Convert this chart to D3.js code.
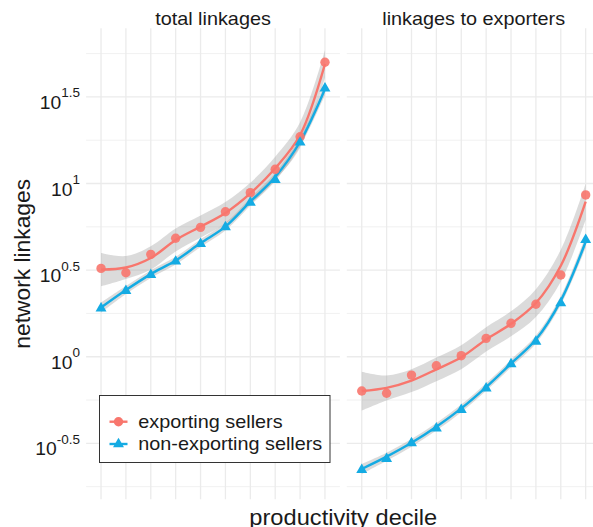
<!DOCTYPE html>
<html lang="en">
<head>
<meta charset="UTF-8">
<title>network linkages by productivity decile</title>
<style>
  body { margin: 0; background: #fff; }
  svg text { font-family: "Liberation Sans", Arial, sans-serif; fill: #1a1a1a; }
</style>
</head>
<body>
<svg id="chart" width="593" height="527"></svg>
<script src="https://d3js.org/d3.v7.min.js"></script>
<script>
// categories
const deciles = [1, 2, 3, 4, 5, 6, 7, 8, 9, 10];
const panelTitles = ["total linkages", "linkages to exporters"];
const seriesNames = ["exporting sellers", "non-exporting sellers"];

// log10 of network linkages per decile (points)
const totalExp = [0.510, 0.485, 0.591, 0.684, 0.747, 0.837, 0.947, 1.082, 1.270, 1.700];
const totalNon = [0.280, 0.380, 0.473, 0.550, 0.652, 0.748, 0.890, 1.021, 1.237, 1.550];
const toExpExp = [-0.198, -0.211, -0.106, -0.052, 0.006, 0.106, 0.193, 0.303, 0.472, 0.934];
const toExpNon = [-0.653, -0.590, -0.499, -0.413, -0.307, -0.182, -0.043, 0.088, 0.309, 0.675];

// smoothed fit (log10) and half width of its grey band
const totalExpFit = [0.503, 0.515, 0.570, 0.674, 0.751, 0.830, 0.943, 1.088, 1.280, 1.690];
const totalExpBand = [0.096, 0.066, 0.068, 0.066, 0.064, 0.063, 0.062, 0.066, 0.073, 0.080];
const totalNonFit = [0.284, 0.385, 0.477, 0.555, 0.656, 0.751, 0.895, 1.038, 1.241, 1.546];
const totalNonBand = [0.029, 0.023, 0.022, 0.022, 0.022, 0.022, 0.022, 0.023, 0.026, 0.035];
const toExpExpFit = [-0.198, -0.180, -0.138, -0.073, -0.003, 0.100, 0.190, 0.310, 0.525, 0.895];
const toExpExpBand = [0.112, 0.072, 0.066, 0.068, 0.069, 0.070, 0.072, 0.080, 0.092, 0.104];
const toExpNonFit = [-0.648, -0.577, -0.497, -0.404, -0.298, -0.175, -0.039, 0.099, 0.324, 0.664];
const toExpNonBand = [0.029, 0.023, 0.022, 0.022, 0.022, 0.022, 0.022, 0.023, 0.026, 0.035];

// y axis (exponents of 10)
const yTicks = [-0.5, 0, 0.5, 1, 1.5];
const yMinor = [-0.75, -0.25, 0.25, 0.75, 1.25, 1.75];
const yLimits = [-0.823, 1.896];

const colors = ["#F8766D", "#14ABE3"];
const SX = 1.09; // horizontal text stretch of the original

const svg = d3.select("#chart");

const y = d3.scaleLog()
    .domain([Math.pow(10, yLimits[0]), Math.pow(10, yLimits[1])])
    .range([499.3, 28.3]);
const yv = e => y(Math.pow(10, e));

const panels = [
    { title: panelTitles[0], range: [86.1, 339.9],
      series: [{ pts: totalExp, fit: totalExpFit, band: totalExpBand },
               { pts: totalNon, fit: totalNonFit, band: totalNonBand }] },
    { title: panelTitles[1], range: [346.8, 600.6],
      series: [{ pts: toExpExp, fit: toExpExpFit, band: toExpExpBand },
               { pts: toExpNon, fit: toExpNonFit, band: toExpNonBand }] }
];

function stretched(sel, x, yy) {
    return sel.attr("transform", `translate(${x},${yy}) scale(${SX},1)`);
}

const tri = d3.symbol().type(d3.symbolTriangle).size(52);

panels.forEach(p => {
    const x = d3.scalePoint().domain(deciles).range(p.range).padding(0.6);
    const g = svg.append("g");

    // grid
    g.selectAll(".minor").data(yMinor).enter().append("line")
        .attr("x1", p.range[0]).attr("x2", p.range[1])
        .attr("y1", d => yv(d)).attr("y2", d => yv(d))
        .attr("stroke", "#EBEBEB").attr("stroke-width", 0.7);
    g.selectAll(".major").data(yTicks).enter().append("line")
        .attr("x1", p.range[0]).attr("x2", p.range[1])
        .attr("y1", d => yv(d)).attr("y2", d => yv(d))
        .attr("stroke", "#EBEBEB").attr("stroke-width", 1.3);
    g.selectAll(".vgrid").data(deciles).enter().append("line")
        .attr("x1", d => x(d)).attr("x2", d => x(d))
        .attr("y1", y.range()[1]).attr("y2", y.range()[0])
        .attr("stroke", "#EBEBEB").attr("stroke-width", 1.3);

    // strip title
    stretched(svg.append("text"), (p.range[0] + p.range[1]) / 2, 25)
        .attr("text-anchor", "middle")
        .attr("font-size", 18.2)
        .text(p.title);

    const area = d3.area()
        .x((d, i) => x(deciles[i]))
        .y0(d => yv(d[0] - d[1]))
        .y1(d => yv(d[0] + d[1]))
        .curve(d3.curveCatmullRom);
    const line = d3.line()
        .x((d, i) => x(deciles[i]))
        .y(d => yv(d))
        .curve(d3.curveCatmullRom);

    p.series.forEach(s => {
        g.append("path")
            .attr("d", area(s.fit.map((f, i) => [f, s.band[i]])))
            .attr("fill", "#999").attr("fill-opacity", 0.35);
    });
    p.series.forEach((s, k) => {
        g.append("path")
            .attr("d", line(s.fit))
            .attr("fill", "none")
            .attr("stroke", colors[k])
            .attr("stroke-width", 2.4);
    });
    // points
    g.selectAll(".pt").data(p.series[0].pts).enter().append("circle")
        .attr("cx", (d, i) => x(deciles[i]))
        .attr("cy", d => yv(d))
        .attr("r", 4.7)
        .attr("fill", colors[0]).attr("fill-opacity", 0.9);
    g.selectAll(".tri").data(p.series[1].pts).enter().append("path")
        .attr("d", tri)
        .attr("transform", (d, i) => `translate(${x(deciles[i])},${yv(d)})`)
        .attr("fill", colors[1]);
});

// y tick labels: 10 with superscript exponent
yTicks.forEach(e => {
    const t = stretched(svg.append("text"), 80, yv(e) + 12)
        .attr("text-anchor", "end")
        .attr("fill", "#1a1a1a");
    t.append("tspan").attr("font-size", 17.7).text("10");
    t.append("tspan").attr("font-size", 12.4).attr("dy", -11.5).text(String(e));
});

// axis titles
svg.append("text")
    .attr("transform", "translate(30,263.8) rotate(-90)")
    .attr("text-anchor", "middle")
    .attr("font-size", 22.8)
    .text("network linkages");
stretched(svg.append("text"), 343.3, 525)
    .attr("text-anchor", "middle")
    .attr("font-size", 21.7)
    .text("productivity decile");

// legend
const lg = svg.append("g");
lg.append("rect")
    .attr("x", 99.5).attr("y", 395.5).attr("width", 230.5).attr("height", 67)
    .attr("fill", "#fff").attr("stroke", "#333").attr("stroke-width", 1);
const legendY = [421.7, 444];
seriesNames.forEach((name, k) => {
    lg.append("line")
        .attr("x1", 109.5).attr("x2", 127.5)
        .attr("y1", legendY[k]).attr("y2", legendY[k])
        .attr("stroke", colors[k]).attr("stroke-width", 2.4);
    if (k === 0) {
        lg.append("circle").attr("cx", 118.5).attr("cy", legendY[k]).attr("r", 4.7)
            .attr("fill", colors[k]);
    } else {
        lg.append("path").attr("d", tri)
            .attr("transform", `translate(118.5,${legendY[k]})`)
            .attr("fill", colors[k]);
    }
    stretched(lg.append("text"), 138.3, legendY[k] + 6.2)
        .attr("font-size", 18.2)
        .text(name);
});
</script>
</body>
</html>
